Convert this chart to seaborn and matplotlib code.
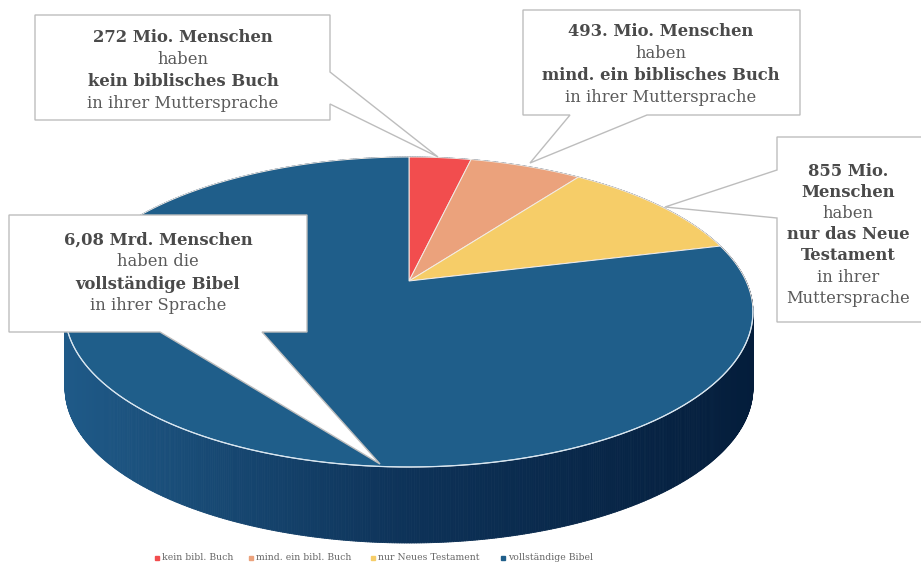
import numpy as np
import matplotlib
matplotlib.use("Agg")
import matplotlib.pyplot as plt
import seaborn as sns
from matplotlib.patches import Polygon
from matplotlib.collections import PolyCollection
from matplotlib.colors import to_rgb

sns.set_theme(style="white")
plt.rcParams['font.family'] = ['DejaVu Serif', 'DejaVu Sans']

# ---------------- data ----------------
categories = ["kein bibl. Buch", "mind. ein bibl. Buch", "nur Neues Testament", "vollständige Bibel"]
values_mio = [272, 493, 855, 6080]
top_colors = sns.color_palette(["#F24D4E", "#EBA27C", "#F6CD68", "#1F5E8A"])

callout_272 = [("272 Mio. Menschen", True), ("haben", False),
               ("kein biblisches Buch", True), ("in ihrer Muttersprache", False)]
callout_493 = [("493. Mio. Menschen", True), ("haben", False),
               ("mind. ein biblisches Buch", True), ("in ihrer Muttersprache", False)]
callout_855 = [("855 Mio.", True), ("Menschen", True), ("haben", False),
               ("nur das Neue", True), ("Testament", True), ("in ihrer", False),
               ("Muttersprache", False)]
callout_608 = [("6,08 Mrd. Menschen", True), ("haben die", False),
               ("vollständige Bibel", True), ("in ihrer Sprache", False)]

# ---------------- figure ----------------
fig = plt.figure(figsize=(9.21, 5.68), dpi=100)
ax = fig.add_axes([0, 0, 1, 1])
ax.set_xlim(0, 921)
ax.set_ylim(568, 0)
ax.axis('off')

CX, CY, RX, RY, K, DEPTH = 409, 281, 337, 148.8, 0.2, 76


def proj(theta_deg, r=1.0):
    t = np.radians(theta_deg)
    u = r * np.sin(t)
    v = r * np.cos(t)
    d = 1 + K * v
    return CX + RX * u / d, CY - RY * v / d


fracs = np.array(values_mio, dtype=float) / np.sum(values_mio)
bounds = np.concatenate([[0], np.cumsum(fracs) * 360])

side_light = np.array(to_rgb("#1F5A88"))
side_mid = np.array(to_rgb("#0D3258"))
side_dark = np.array(to_rgb("#041D3B"))


def side_color(x):
    f = np.clip((x - 65) / 690.0, 0, 1)
    if f < 0.5:
        c = side_light + (side_mid - side_light) * (f / 0.5)
    else:
        c = side_mid + (side_dark - side_mid) * ((f - 0.5) / 0.5)
    return tuple(c)


# side walls
quads, cols, keys = [], [], []
for i in range(len(values_mio)):
    th = np.linspace(bounds[i], bounds[i + 1], max(4, int((bounds[i + 1] - bounds[i]) * 3)))
    xs, ys = proj(th)
    for j in range(len(th) - 1):
        q = [(xs[j], ys[j]), (xs[j + 1], ys[j + 1]),
             (xs[j + 1], ys[j + 1] + DEPTH), (xs[j], ys[j] + DEPTH)]
        quads.append(q)
        cols.append(side_color((xs[j] + xs[j + 1]) / 2))
        keys.append(np.cos(np.radians((th[j] + th[j + 1]) / 2)))
order = np.argsort(keys)[::-1]
pc = PolyCollection([quads[o] for o in order], facecolors=[cols[o] for o in order],
                    edgecolors=[cols[o] for o in order], linewidths=0.6, zorder=1)
ax.add_collection(pc)

# top faces
for i in range(len(values_mio)):
    th = np.linspace(bounds[i], bounds[i + 1], 200)
    xs, ys = proj(th)
    pts = [(CX, CY)] + list(zip(xs, ys))
    ax.add_patch(Polygon(pts, closed=True, facecolor=top_colors[i],
                         edgecolor="#F3ECE6", linewidth=0.7, zorder=2))

# highlight along front rim
th = np.linspace(100, 262, 300)
xs, ys = proj(th)
ax.plot(xs, ys, color="#D6E6F2", lw=0.9, zorder=3)

# ---------------- callouts ----------------
box_style = dict(facecolor="white", edgecolor="#BDBDBD", linewidth=1.0, zorder=5)

ax.add_patch(Polygon([(35, 15), (330, 15), (330, 72), (438, 157), (330, 104),
                      (330, 120), (35, 120)], closed=True, **box_style))
ax.add_patch(Polygon([(523, 10), (800, 10), (800, 115), (647, 115), (530, 163),
                      (570, 115), (523, 115)], closed=True, **box_style))
ax.add_patch(Polygon([(777, 137), (930, 137), (930, 322), (777, 322), (777, 218),
                      (665, 207), (777, 170)], closed=True, **box_style))
ax.add_patch(Polygon([(9, 215), (307, 215), (307, 332), (262, 332), (380, 464),
                      (160, 332), (9, 332)], closed=True, **box_style))


def write(lines, x, y0, dy, fs=11.8):
    for k, (t, bold) in enumerate(lines):
        ax.text(x, y0 + k * dy, t, ha="center", va="center", fontsize=fs,
                fontweight="bold" if bold else "normal",
                color="#4A4A4A" if bold else "#5A5A5A", zorder=6)


write(callout_272, 183, 38, 22)
write(callout_493, 661, 31, 22)
write(callout_855, 848, 171, 21.2, fs=11.8)
write(callout_608, 158, 240, 22)

# ---------------- legend ----------------
leg_x = [157, 251, 373, 503]
for i, (lab, lx) in enumerate(zip(categories, leg_x)):
    ax.plot([lx], [558], marker="s", markersize=3, color=top_colors[i],
            linestyle="none", zorder=6)
    ax.text(lx + 5, 558, lab, ha="left", va="center", fontsize=6.7,
            color="#666666", zorder=6)

fig.savefig("out.png", dpi=100, facecolor="white")
